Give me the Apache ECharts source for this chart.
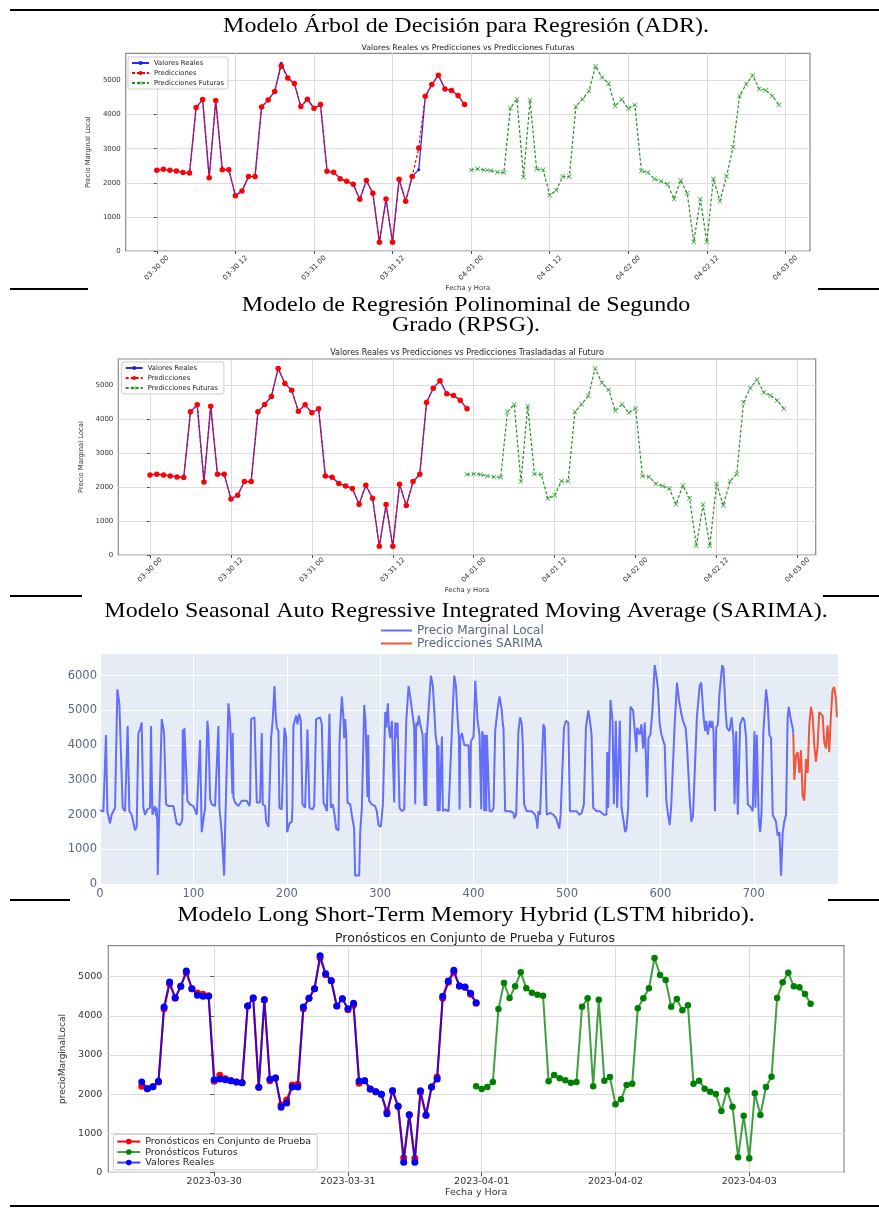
<!DOCTYPE html>
<html><head><meta charset="utf-8">
<script src="https://cdn.jsdelivr.net/npm/echarts@6/dist/echarts.min.js"></script>
<style>html,body{margin:0;padding:0;background:#fff}#c{width:879px;height:1218px}</style>
</head><body><div id="c"></div><script>
// ---------------- DATA ----------------
// Panel 1 (ADR): hourly, hour 0 = 03-30 00
const adrRealStart = 0;
const adrReal = [2368,2397,2368,2348,2300,2290,4207,4442,2152,4413,2387,2387,1624,1761,2182,2182,4227,4432,4677,5510,5078,4912,4237,4452,4188,4295,2339,2309,2123,2045,1957,1517,2065,1693,254,1526,254,2104,1458,2182,2387,4540,4882,5157,4755,4706,4560,4295];
const adrPred = [2368,2397,2368,2348,2300,2290,4207,4442,2152,4413,2387,2387,1624,1761,2182,2182,4227,4432,4677,5430,5078,4912,4237,4452,4188,4295,2339,2309,2123,2045,1957,1517,2065,1693,254,1526,254,2104,1458,2182,3023,4540,4882,5157,4755,4706,4560,4295];
const adrFutureStart = 48;
const adrFuture = [2378,2407,2378,2358,2309,2300,4198,4452,2162,4423,2397,2387,1634,1781,2182,2182,4237,4452,4697,5421,5098,4912,4256,4452,4178,4286,2348,2300,2114,2045,1957,1526,2074,1693,264,1517,264,2114,1468,2192,3043,4550,4892,5157,4755,4716,4550,4286];
const mplTickHours = [0,12,24,36,48,60,72,84,96];
const mplTickLabels = ['03-30 00','03-30 12','03-31 00','03-31 12','04-01 00','04-01 12','04-02 00','04-02 12','04-03 00'];
const mplYTicks = [0,1000,2000,3000,4000,5000];

// Panel 2 (RPSG)
const rpsgRealStart = 0;
const rpsgReal = [2362,2382,2362,2333,2303,2283,4222,4429,2156,4390,2382,2382,1654,1762,2165,2165,4222,4439,4675,5502,5059,4862,4242,4429,4193,4311,2333,2293,2106,2037,1959,1496,2057,1673,256,1486,256,2087,1457,2165,2382,4498,4921,5138,4754,4705,4567,4311];
const rpsgPred = [2362,2382,2362,2333,2303,2283,4222,4429,2156,4390,2382,2382,1654,1762,2165,2165,4222,4439,4675,5502,5059,4862,4242,4429,4193,4311,2333,2293,2106,2037,1959,1496,2057,1673,256,1486,256,2087,1457,2165,2382,4498,4921,5138,4754,4705,4567,4311];
const rpsgFutureStart = 47;
const rpsgFuture = [2372,2392,2372,2333,2303,2293,4222,4439,2165,4390,2392,2372,1663,1762,2175,2175,4222,4449,4695,5502,5079,4872,4252,4449,4193,4321,2333,2303,2096,2037,1959,1496,2047,1673,276,1486,276,2096,1457,2175,2392,4508,4921,5177,4793,4705,4557,4311];

// Panel 3 (SARIMA): [index, price]
const sarimaReal = [[0,2130],[1.8,2080],[3.6,2090],[6.4,4290],[7.9,2100],[10.7,1750],[12.5,2000],[16.1,2200],[18.6,5600],[20.7,5200],[22.1,5150],[24.3,2200],[26.8,2100],[28.6,2100],[29.6,4550],[31.4,2100],[33.9,2000],[37.5,1550],[39.3,1650],[41.1,4350],[42.9,4450],[44.6,4650],[46.4,2200],[48.2,2000],[50.7,2150],[53.6,2200],[54.6,4550],[56.1,2000],[58.9,2250],[60,1950],[60.7,2200],[61.4,1700],[61.8,270],[62.9,1500],[63.6,1500],[66.1,4750],[67.1,4600],[68.6,4350],[70.7,2300],[73.2,2250],[78.6,2250],[80.4,2250],[82.1,1750],[85.7,1700],[87.5,1800],[88.2,1900],[88.6,4450],[89.3,2600],[90.4,4500],[92.1,4500],[93.6,2400],[96.4,2300],[100,2250],[101.8,2200],[103.6,2000],[105.4,1950],[107.1,4150],[108.9,1500],[110.7,1550],[112.5,2200],[115,4700],[116.1,4350],[117.1,4400],[117.9,2450],[119.6,2300],[123.2,2250],[125,2250],[126.8,4550],[127.9,2200],[130.4,1450],[132.9,250],[133.9,1500],[137.5,5200],[139.3,4700],[140.4,4750],[141.8,2600],[142.1,4350],[142.9,2500],[144.6,2350],[148.2,2250],[151.8,2400],[157.1,2400],[158.9,2350],[160,2250],[160.7,2400],[161.8,4750],[165.4,4800],[167.1,4850],[167.9,2350],[171.4,2350],[173.2,4350],[174.3,2300],[176.8,2250],[177.9,1800],[180.4,1650],[182.1,1650],[183.2,4200],[185,4750],[186.8,5700],[188.2,4850],[189.3,4500],[191.1,4400],[192.1,2200],[194.6,2150],[196.4,2200],[197.5,4500],[199.3,4250],[200.4,1500],[202.9,1750],[205.4,1800],[206.1,2250],[207.1,4550],[210,4850],[211.4,4600],[213.2,4900],[215,4700],[216.8,2300],[219.6,2200],[221.4,2200],[222.1,4450],[223.2,4400],[224.3,2200],[225.7,2250],[227.5,2150],[229.3,2250],[231.4,4750],[232.9,4700],[235.7,4800],[237.5,4600],[239.3,2350],[241.1,2250],[242.9,2100],[245.7,4900],[247.1,2200],[249.3,2300],[251.1,2000],[252.9,1600],[255.4,1550],[256.4,4000],[257.1,4500],[258.9,5400],[260.7,4800],[261.4,4200],[262.5,4750],[263.6,4300],[265,2350],[267.9,2300],[269.6,2000],[272.1,1600],[273.2,250],[277.5,250],[278.6,1500],[280.4,2200],[282.9,5150],[284.3,4700],[285.7,4650],[286.4,2500],[287.1,4300],[288.2,2400],[291.1,2300],[294.6,2250],[296.4,2100],[298.2,1700],[300.7,1650],[302.9,2300],[305.4,4950],[306.4,4500],[308.2,5200],[309.3,4500],[310.7,4200],[312.5,4700],[315,2350],[316.1,4650],[317.1,4200],[318.6,4650],[320.7,2200],[323.2,2100],[325.7,2150],[327.9,4700],[330.4,5700],[332.1,5400],[335,4800],[336.4,4500],[337.5,2300],[338.6,4650],[340,4550],[341.4,4850],[342.9,4600],[345.4,4300],[347.5,2250],[348.6,4350],[349.3,2250],[350,4300],[351.8,4350],[354.3,6000],[356.4,5700],[357.9,5000],[359.3,4300],[360.7,4000],[361.4,2100],[362.5,4000],[363.6,2100],[366.1,4250],[367.1,2100],[369.6,2150],[373.2,2100],[375,2150],[377.9,5150],[379.3,6000],[381.1,5700],[382.9,4800],[384.3,4200],[385,2150],[385.7,4200],[387.5,4350],[390,4000],[394.6,4000],[396.4,2200],[397.1,4100],[400,4250],[401.8,5850],[404.3,4700],[406.4,4300],[407.1,4300],[408.2,2150],[409.3,4400],[410.7,4200],[411.4,2100],[412.5,4300],[413.5,2100],[414.2,4300],[416,4250],[417.1,2100],[419.6,2100],[421.4,2200],[423.1,4400],[425.6,5000],[427.8,5400],[430.2,5000],[431.3,4600],[432,4500],[433.8,2100],[439.1,2100],[442.7,2050],[443.4,1900],[445.6,2000],[448,4400],[449.8,4800],[451.6,4600],[452.7,4000],[454.1,2300],[456.9,2100],[462.3,2100],[465.8,2000],[467.6,1800],[468.3,1600],[469.4,2100],[471.2,2000],[474.7,4600],[476.2,4500],[478.3,2000],[481.9,2050],[485.4,2000],[488.3,1900],[491.8,1600],[493.2,2000],[496.8,4500],[498.9,4700],[501.4,4650],[503.2,2100],[510.3,2100],[513.2,2000],[515.7,2050],[518.1,2300],[520.3,4500],[522.8,5000],[524.6,4700],[526.3,4300],[528.1,2200],[531.7,2100],[535.2,2100],[539.5,2000],[542.3,2000],[543.1,3800],[544.1,2200],[546.6,5300],[548.8,4700],[550.2,2300],[552.3,4700],[553.7,2200],[556.6,4700],[558.4,2200],[560.1,1900],[562.3,1500],[563.7,1600],[565.5,2200],[568,5100],[570.8,5000],[574.4,3800],[575.1,4500],[577.9,4300],[579.7,4600],[581.5,3900],[583.3,4650],[585.8,2500],[587.2,4200],[589.3,4300],[591.5,5000],[593.9,6300],[595.7,6000],[597.5,5600],[599.3,4600],[601.1,4300],[604.6,4000],[606.4,2400],[608.2,2000],[610,1700],[611.7,2300],[615.3,4600],[617.8,5800],[619.9,5300],[622.4,4900],[624.2,4700],[627,4500],[628.5,4000],[631.3,2500],[633.1,1800],[634.9,1950],[636.7,2000],[639.1,4800],[642,5700],[643.8,5800],[646.3,4800],[648,4400],[649.1,4700],[650.9,4300],[652.7,4700],[654.4,4500],[655.5,4700],[656.9,4400],[658.4,2100],[659.8,4500],[661.6,4600],[663.3,5500],[666.2,6300],[667.6,6200],[669.8,5000],[671.2,4500],[674,4400],[676.2,4800],[678.3,4200],[679.4,2300],[681.1,4400],[682.9,2000],[685.4,4600],[688.3,4800],[690,4700],[691.8,4200],[693.6,2300],[697.2,2200],[698.9,2100],[700.7,4400],[701.8,2200],[703.2,4300],[705.3,1900],[706.8,1500],[708.2,2000],[710.3,4400],[713.2,5600],[714.9,5200],[716.7,4300],[718.5,4200],[720.3,2000],[723.8,1800],[725.6,1400],[727.4,1500],[729.2,250],[731,1500],[732.7,1800],[734.5,2000],[736.3,4800],[737.4,5100],[739.9,4700],[741.6,4500],[742.3,4330]];
const sarimaPred = [[742.3,4330],[743.4,3000],[745.2,3700],[747,3800],[748.8,3200],[750.5,3850],[752.3,2550],[754.1,2400],[755.9,3600],[757.7,3200],[759.4,4570],[761.2,5100],[763,4850],[764.8,4000],[766.5,3520],[768.3,3950],[770.1,4950],[771.9,5000],[773.7,4850],[775.4,4100],[777.2,3900],[779,4570],[780.8,3800],[782.6,4850],[784.3,5580],[786.1,5670],[787.9,5340],[789,4810]];

// Panel 4 (LSTM): hour 0 = 2023-03-30 00
const lstmTestStart = -13;
const lstmReal = [2308,2138,2189,2325,4225,4864,4463,4753,5145,4693,4523,4497,4497,2368,2385,2368,2342,2308,2291,4250,4455,2172,4412,2376,2410,1661,1772,2181,2181,4225,4446,4693,5537,5077,4898,4250,4438,4182,4319,2334,2342,2129,2061,1993,1499,2087,1687,256,1474,256,2087,1457,2181,2385,4497,4889,5162,4761,4735,4574,4336];
const lstmPred = [2198,2138,2189,2308,4182,4820,4446,4753,5102,4693,4583,4549,4514,2325,2479,2393,2342,2308,2291,4250,4455,2172,4412,2342,2410,1721,1848,2232,2249,4182,4446,4693,5486,5051,4898,4250,4438,4157,4267,2274,2342,2129,2061,1993,1550,2087,1687,375,1474,358,2044,1457,2181,2436,4446,4855,5111,4761,4727,4549,4319];
const lstmFutureStart = 47;
const lstmFuture = [2198,2129,2181,2308,4174,4838,4455,4753,5111,4702,4591,4540,4514,2325,2487,2402,2351,2291,2308,4233,4446,2198,4412,2342,2436,1738,1865,2232,2266,4191,4446,4702,5477,5043,4915,4233,4429,4140,4267,2266,2342,2138,2061,2002,1567,2095,1678,383,1448,358,2019,1465,2181,2445,4455,4855,5102,4753,4727,4557,4310];
const lstmTickHours = [0,24,48,72,96];
const lstmTickLabels = ['2023-03-30','2023-03-31','2023-04-01','2023-04-02','2023-04-03'];

// ---------------- CHART ----------------
const F = 'DejaVu Sans';
const toXY = (arr, start) => arr.map((v, i) => [start + i, v]);
const plain = v => String(v);
const xMark = 'path://M1,0L5,4L9,0L10,1L6,5L10,9L9,10L5,6L1,10L0,9L4,5L0,1Z';
const gridCol = '#dcdcdc', tickCol = '#555', txtCol = '#333';

function mplX(gi, min, max, ticks, labels, o) {
  return {
    type: 'value', gridIndex: gi, min: min, max: max,
    axisLine: { show: false },
    axisTick: { show: true, customValues: ticks, length: o.tl, lineStyle: { color: tickCol } },
    axisLabel: Object.assign({ customValues: ticks, color: txtCol, fontFamily: F, fontSize: o.fs,
      formatter: v => labels[ticks.indexOf(Math.round(v))] }, o.lab),
    splitLine: { show: true, lineStyle: { color: gridCol, width: 1 } },
    name: 'Fecha y Hora', nameLocation: 'middle', nameGap: o.ng,
    nameTextStyle: { fontFamily: F, fontSize: o.nfs || o.fs, color: txtCol }
  };
}
function mplY(gi, max, name, o) {
  return {
    type: 'value', gridIndex: gi, min: 0, max: max,
    axisLine: { show: false },
    axisTick: { show: true, customValues: mplYTicks, length: o.tl, lineStyle: { color: tickCol } },
    axisLabel: { customValues: mplYTicks, formatter: plain, color: txtCol, fontFamily: F, fontSize: o.fs, margin: o.m },
    splitLine: { show: true, lineStyle: { color: gridCol, width: 1 } },
    name: name, nameLocation: 'middle', nameGap: o.ng,
    nameTextStyle: { fontFamily: F, fontSize: o.nfs || o.fs, color: txtCol }
  };
}
function mplLegend(names, left, top, o) {
  return {
    data: names, left: left, top: top, orient: 'vertical', selectedMode: false,
    itemWidth: o.iw, itemHeight: o.ih, itemGap: o.gap, padding: o.pad,
    backgroundColor: 'rgba(255,255,255,0.85)', borderColor: '#cccccc', borderWidth: 1, borderRadius: 2,
    textStyle: { fontFamily: F, fontSize: o.fs, color: '#222', lineHeight: o.lh }
  };
}

const frame = { show: true, borderColor: '#8a8a8a', borderWidth: 1.2, backgroundColor: '#fff' };

const p1 = ['Valores Reales', 'Predicciones', 'Predicciones Futuras'];
const p2 = ['Valores Reales ', 'Predicciones ', 'Predicciones Futuras '];
const p4 = ['Pronósticos en Conjunto de Prueba', 'Pronósticos Futuros', 'Valores Reales  '];

function mplSeries(names, gi, real, realStart, pred, predStart, fut, futStart) {
  return [
    { name: names[0], type: 'line', xAxisIndex: gi, yAxisIndex: gi, data: toXY(real, realStart),
      symbol: 'circle', symbolSize: 3, itemStyle: { color: '#1a1aff' },
      lineStyle: { color: '#2a2aff', width: 1.3 }, z: 2 },
    { name: names[1], type: 'line', xAxisIndex: gi, yAxisIndex: gi, data: toXY(pred, predStart),
      symbol: 'circle', symbolSize: 5.5, itemStyle: { color: '#ff0000' },
      lineStyle: { color: '#ff0000', width: 1.2, type: [3, 2] }, z: 3 },
    { name: names[2], type: 'line', xAxisIndex: gi, yAxisIndex: gi, data: toXY(fut, futStart),
      symbol: xMark, symbolSize: 5, itemStyle: { color: '#3aa83a' },
      lineStyle: { color: '#239023', width: 1.2, type: [3, 2] }, z: 3 }
  ];
}

function hline(y, x1, x2) {
  return { type: 'line', shape: { x1: x1, y1: y, x2: x2, y2: y }, style: { stroke: '#000', lineWidth: 2 }, z: 100 };
}
function txt(x, y, text, font, fill, sy) {
  return { type: 'text', x: x, y: y, z: 100, scaleY: sy || 1,
    style: { text: text, font: font, fill: fill || '#000', align: 'center', verticalAlign: 'middle' } };
}
const serif = '24px "Liberation Serif"';
const SY = 0.84;

const option = {
  animation: false,
  backgroundColor: '#fff',
  grid: [
    Object.assign({ left: 125.7, top: 53.3, width: 684.3, height: 197.7 }, frame),
    Object.assign({ left: 118.3, top: 359, width: 697.4, height: 196 }, frame),
    { left: 100, top: 653.3, width: 738.3, height: 231, show: true, borderWidth: 0, backgroundColor: '#E5ECF6' },
    Object.assign({ left: 108.3, top: 945.7, width: 735.7, height: 226.6 }, frame)
  ],
  xAxis: [
    mplX(0, -4.75, 99.75, mplTickHours, mplTickLabels, { tl: 3, fs: 7, nfs: 6.8, ng: 28,
      lab: { rotate: 45, align: 'center', verticalAlign: 'middle', margin: 17 } }),
    mplX(1, -4.7, 98.7, mplTickHours, mplTickLabels, { tl: 3, fs: 7, nfs: 6.8, ng: 28,
      lab: { rotate: 45, align: 'center', verticalAlign: 'middle', margin: 15 } }),
    { type: 'value', gridIndex: 2, min: 0, max: 790.5, interval: 100,
      axisLine: { show: false }, axisTick: { show: false },
      axisLabel: { showMaxLabel: false, formatter: plain, color: '#5a6680', fontFamily: F, fontSize: 11.5, margin: 4 },
      splitLine: { show: true, lineStyle: { color: '#ffffff', width: 1 } } },
    mplX(3, -19, 113, lstmTickHours, lstmTickLabels, { tl: 4, fs: 9.5, ng: 13, lab: { margin: 4 } })
  ],
  yAxis: [
    mplY(0, 5800, 'Precio Marginal Local', { tl: 3, fs: 7, nfs: 6.8, m: 5, ng: 29 }),
    mplY(1, 5780, 'Precio Marginal Local', { tl: 3, fs: 7, nfs: 6.8, m: 5, ng: 29 }),
    { type: 'value', gridIndex: 2, min: 0, max: 6640, interval: 1000,
      axisLine: { show: false }, axisTick: { show: false },
      axisLabel: { showMaxLabel: false, formatter: plain, color: '#5a6680', fontFamily: F, fontSize: 11.5, margin: 3 },
      splitLine: { show: true, lineStyle: { color: '#ffffff', width: 1 } } },
    mplY(3, 5792, 'precioMarginalLocal', { tl: 4, fs: 9.5, m: 6, ng: 40, nfs: 9 })
  ],
  legend: [
    mplLegend(p1, 128, 57, { iw: 17, ih: 5, gap: 2, pad: [2, 4, 2, 3], fs: 6.8, lh: 8 }),
    mplLegend(p2, 121.7, 362, { iw: 17, ih: 5, gap: 2, pad: [2, 4, 2, 3], fs: 6.8, lh: 8 }),
    { data: ['Precio Marginal Local', 'Predicciones SARIMA'], left: 381, top: 624, orient: 'vertical',
      selectedMode: false, icon: 'rect', itemWidth: 31, itemHeight: 2, itemGap: 0, padding: 0,
      textStyle: { fontFamily: F, fontSize: 12, color: '#5a6680', lineHeight: 13 } },
    mplLegend(p4, 113.3, 1134.3, { iw: 23, ih: 7, gap: 0, pad: [2, 6, 2, 3], fs: 9.5, lh: 10.5 })
  ],
  series: [].concat(
    mplSeries(p1, 0, adrReal, adrRealStart, adrPred, adrRealStart, adrFuture, adrFutureStart),
    mplSeries(p2, 1, rpsgReal, rpsgRealStart, rpsgPred, rpsgRealStart, rpsgFuture, rpsgFutureStart),
    [
      { name: 'Precio Marginal Local', type: 'line', xAxisIndex: 2, yAxisIndex: 2, data: sarimaReal,
        symbol: 'none', lineStyle: { color: '#636EFA', width: 2 }, itemStyle: { color: '#636EFA' } },
      { name: 'Predicciones SARIMA', type: 'line', xAxisIndex: 2, yAxisIndex: 2, data: sarimaPred,
        symbol: 'none', lineStyle: { color: '#EF553B', width: 2 }, itemStyle: { color: '#EF553B' } },
      { name: p4[0], type: 'line', xAxisIndex: 3, yAxisIndex: 3, data: toXY(lstmPred, lstmTestStart),
        symbol: 'circle', symbolSize: 7, itemStyle: { color: '#ff0000' },
        lineStyle: { color: '#ff0000', width: 2 }, z: 2 },
      { name: p4[1], type: 'line', xAxisIndex: 3, yAxisIndex: 3, data: toXY(lstmFuture, lstmFutureStart),
        symbol: 'circle', symbolSize: 6.5, itemStyle: { color: '#008000' },
        lineStyle: { color: '#008000', width: 2, opacity: 0.75 }, z: 3 },
      { name: p4[2], type: 'line', xAxisIndex: 3, yAxisIndex: 3, data: toXY(lstmReal, lstmTestStart),
        symbol: 'circle', symbolSize: 7, itemStyle: { color: '#0000ff' },
        lineStyle: { color: '#0000ff', width: 2, opacity: 0.75 }, z: 4 }
    ]
  ),
  graphic: { elements: [
    hline(10, 10, 879),
    hline(289, 10, 88), hline(289, 818, 879),
    hline(596, 10, 82), hline(596, 823, 879),
    hline(900, 10, 70), hline(900, 828, 879),
    hline(1206, 10, 879),
    txt(466, 27, 'Modelo Árbol de Decisión para Regresión (ADR).', serif, '#000', SY),
    txt(466, 306, 'Modelo de Regresión Polinominal de Segundo', serif, '#000', SY),
    txt(466, 326, 'Grado (RPSG).', serif, '#000', SY),
    txt(466, 612, 'Modelo Seasonal Auto Regressive Integrated Moving Average (SARIMA).', serif, '#000', SY),
    txt(466, 916, 'Modelo Long Short-Term Memory Hybrid (LSTM hibrido).', serif, '#000', SY),
    txt(468, 47.7, 'Valores Reales vs Predicciones vs Predicciones Futuras', '7.8px "DejaVu Sans"', '#222'),
    txt(467, 353.3, 'Valores Reales vs Predicciones vs Predicciones Trasladadas al Futuro', '8px "DejaVu Sans"', '#222'),
    txt(475, 938.3, 'Pronósticos en Conjunto de Prueba y Futuros', '12.5px "DejaVu Sans"', '#222')
  ] }
};

const chart = echarts.init(document.getElementById('c'), null, { renderer: 'canvas' });
chart.setOption(option);
</script></body></html>
